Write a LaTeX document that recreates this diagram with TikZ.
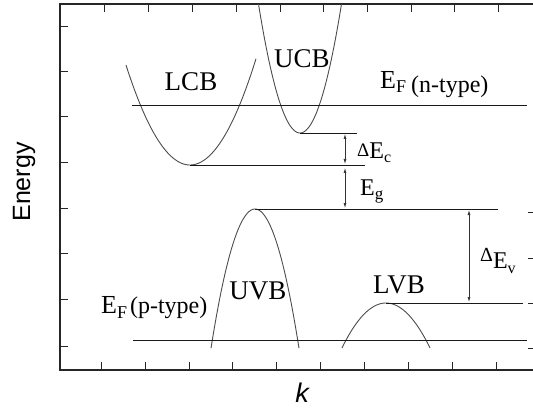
\documentclass[tikz,border=0pt]{standalone}
\usepackage{fontspec}
\setmainfont{Liberation Serif}
\newfontfamily\axisfont{Liberation Sans}
\usetikzlibrary{arrows.meta}
\begin{document}
\begin{tikzpicture}[x=1pt,y=-1pt,
  axis/.style={line width=1.3pt, black!85},
  tickmark/.style={line width=1pt, black!85},
  curve/.style={line width=0.9pt, black!70},
  level/.style={line width=0.9pt, black!90},
  dim/.style={line width=0.7pt, black!80, {Latex[length=5pt,width=3pt]}-{Latex[length=5pt,width=3pt]}},
  band/.style={font=\fontsize{27}{28}\selectfont, inner sep=0pt},
  lbl/.style={inner sep=0pt, anchor=base west},
]
\useasboundingbox (0,0) rectangle (533,409);

% frame
\draw[axis] (533,4) -- (60,4) -- (60,370) -- (533,370);
\foreach \y in {27,72,117,163,208,253,299,346} \draw[tickmark] (60,\y) -- (68,\y);
\foreach \x in {104,148,192,236,280,323,367,411,454,498} \draw[tickmark] (\x,4) -- (\x,12);
\foreach \x in {101,145,189,232,276,320,364,408,452,496} \draw[tickmark] (\x,370) -- (\x,362);
\foreach \y in {212,258,303,348} \draw[tickmark] (528,\y) -- (533,\y);

% band extrema
\coordinate (lcbmin) at (190,165);
\coordinate (ucbmin) at (300,133);
\coordinate (uvbmax) at (255,209);
\coordinate (lvbmax) at (386,303);
\coordinate (lcbend) at (365,165);
\coordinate (ucbend) at (357,133);
\coordinate (uvbend) at (498,209);
\coordinate (lvbend) at (523,303);
\coordinate (efnA) at (132,105);
\coordinate (efnB) at (527,105);
\coordinate (efpA) at (133,340);
\coordinate (efpB) at (527,340);

% bands
\draw[curve] plot[domain=126:256, samples=80] (\x, {165-0.0244*(\x-190)*(\x-190)});
\draw[curve] plot[domain=258.5:341.5, samples=80] (\x, {133-0.0749*(\x-300)*(\x-300)});
\draw[curve] plot[domain=211:299, samples=80] (\x, {209+0.0719*(\x-255)*(\x-255)});
\draw[curve] plot[domain=342:430, samples=80] (\x, {303+0.0232*(\x-386)*(\x-386)});

% levels
\draw[level] (efnA) -- (efnB);
\draw[level] (ucbmin) -- (ucbend);
\draw[level] (lcbmin) -- (lcbend);
\draw[level] (uvbmax) -- (uvbend);
\draw[level] (lvbmax) -- (lvbend);
\draw[level] (efpA) -- (efpB);

% dimension arrows
\coordinate (c1) at (345,134);
\coordinate (c2) at (345,164);
\coordinate (g1) at (345,168);
\coordinate (g2) at (345,208);
\coordinate (v1) at (469,210);
\coordinate (v2) at (469,302);
\draw[dim] (c1) -- (c2);
\draw[dim] (g1) -- (g2);
\draw[dim] (v1) -- (v2);

% labels
\node[band] (lcb) at (191,82) {LCB};
\node[band] (ucb) at (302,59) {UCB};
\node[band] (uvb) at (258,291) {UVB};
\node[band] (lvb) at (399,285) {LVB};

\node[lbl] (efn) at (380,89) {\fontsize{26}{27}\selectfont E\raisebox{-4pt}{\fontsize{18}{18}\selectfont F}\hspace{5pt}\raisebox{-4pt}{\fontsize{24}{25}\selectfont (n-type)}};
\node[lbl] (efp) at (101,313) {\fontsize{26}{27}\selectfont E\raisebox{-5pt}{\fontsize{18}{18}\selectfont F}\hspace{3pt}\fontsize{24}{25}\selectfont (p-type)};

\node[lbl] (dec) at (357,159) {\raisebox{2pt}{\fontsize{19}{20}\selectfont Δ}\fontsize{24}{25}\selectfont E\raisebox{-4pt}{\fontsize{16}{16}\selectfont c}};
\node[lbl] (eg) at (360,196) {\fontsize{24}{25}\selectfont E\raisebox{-4pt}{\fontsize{17}{17}\selectfont g}};
\node[lbl] (dev) at (480,268) {\raisebox{7pt}{\fontsize{20}{21}\selectfont Δ}\fontsize{24}{25}\selectfont E\raisebox{-5pt}{\fontsize{16}{16}\selectfont v}};

\node[rotate=90, inner sep=0pt, font=\axisfont\fontsize{25}{26}\selectfont] (energy) at (24,182) {Energy};
\node[inner sep=0pt, font=\axisfont\itshape\fontsize{27}{28}\selectfont] (kaxis) at (302,393) {k};
\end{tikzpicture}
\end{document}
